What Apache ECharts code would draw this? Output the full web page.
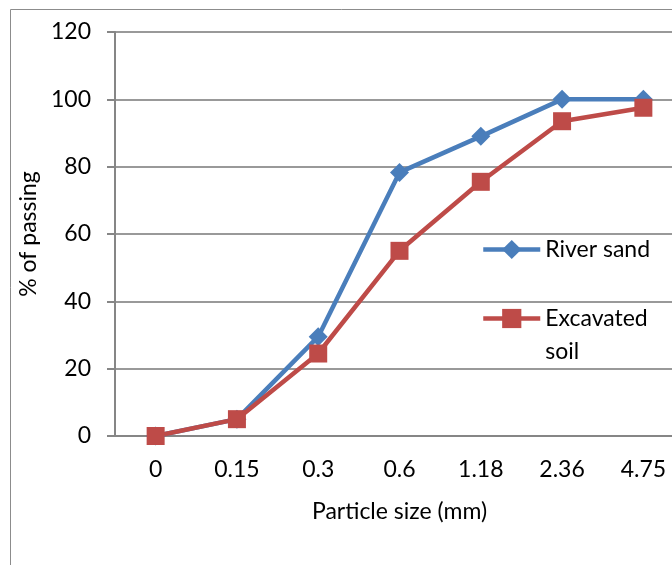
<!DOCTYPE html>
<html>
<head>
<meta charset="utf-8">
<script src="https://cdn.jsdelivr.net/npm/echarts@6/dist/echarts.min.js"></script>
<style>
html, body { margin: 0; padding: 0; background: #fff; }
#chart { width: 672px; height: 565px; }
</style>
</head>
<body>
<div id="chart"></div>
<script>
// sieve sizes (mm)
const sizes = ['0', '0.15', '0.3', '0.6', '1.18', '2.36', '4.75'];
const riverSand = [0, 5, 29.5, 78.3, 89, 100, 100];
const excavatedSoil = [0, 5, 24.5, 55, 75.5, 93.5, 97.5];
const yTicks = [0, 20, 40, 60, 80, 100, 120];

const chart = echarts.init(document.getElementById('chart'));
const font = 'Lato, "Open Sans", sans-serif';

chart.setOption({
    animation: false,
    graphic: [{
        type: 'rect',
        shape: { x: 10.5, y: 9.5, width: 700, height: 600 },
        style: { fill: 'none', stroke: '#8c8c8c', lineWidth: 1 }
    }],
    grid: {
        left: 115,
        top: 32,
        right: -12,
        bottom: 129,
        outerBoundsMode: 'none',
        containLabel: false
    },
    xAxis: {
        type: 'category',
        data: sizes,
        boundaryGap: true,
        name: 'Particle size (mm)',
        nameLocation: 'middle',
        nameGap: 64,
        nameTextStyle: { fontFamily: font, fontSize: 23, color: '#000' },
        axisLine: { lineStyle: { color: '#868686', width: 2 } },
        axisTick: { show: false },
        axisLabel: { fontFamily: font, fontSize: 23, color: '#000', margin: 22 }
    },
    yAxis: {
        type: 'value',
        min: yTicks[0],
        max: yTicks[yTicks.length - 1],
        interval: 20,
        name: '% of passing',
        nameLocation: 'middle',
        nameGap: 67,
        nameTextStyle: { fontFamily: font, fontSize: 23, color: '#000' },
        axisLine: { show: true, lineStyle: { color: '#868686', width: 2 } },
        axisTick: { show: true, length: 8, lineStyle: { color: '#868686', width: 2 } },
        axisLabel: { fontFamily: font, fontSize: 23, color: '#000', margin: 24 },
        splitLine: { lineStyle: { color: '#999999', width: 2 } }
    },
    legend: [{
        data: ['River sand'],
        left: 476,
        top: 233,
        itemWidth: 57,
        itemHeight: 24,
        itemGap: 6,
        lineStyle: { width: 4.5 },
        textStyle: { fontFamily: font, fontSize: 23, color: '#000' }
    }, {
        data: ['Excavated soil'],
        left: 476,
        top: 264,
        itemWidth: 57,
        itemHeight: 24,
        itemGap: 6,
        lineStyle: { width: 4.5 },
        formatter: () => ' \nExcavated\nsoil',
        textStyle: { fontFamily: font, fontSize: 23, color: '#000', lineHeight: 33 }
    }],
    series: [{
        name: 'River sand',
        type: 'line',
        data: riverSand,
        symbol: 'diamond',
        symbolSize: 19,
        lineStyle: { color: '#4a7ebb', width: 4.5 },
        itemStyle: { color: '#4a7ebb' }
    }, {
        name: 'Excavated soil',
        type: 'line',
        data: excavatedSoil,
        symbol: 'rect',
        symbolSize: 18,
        lineStyle: { color: '#be4b48', width: 4.5 },
        itemStyle: { color: '#be4b48' }
    }]
});
</script>
</body>
</html>
